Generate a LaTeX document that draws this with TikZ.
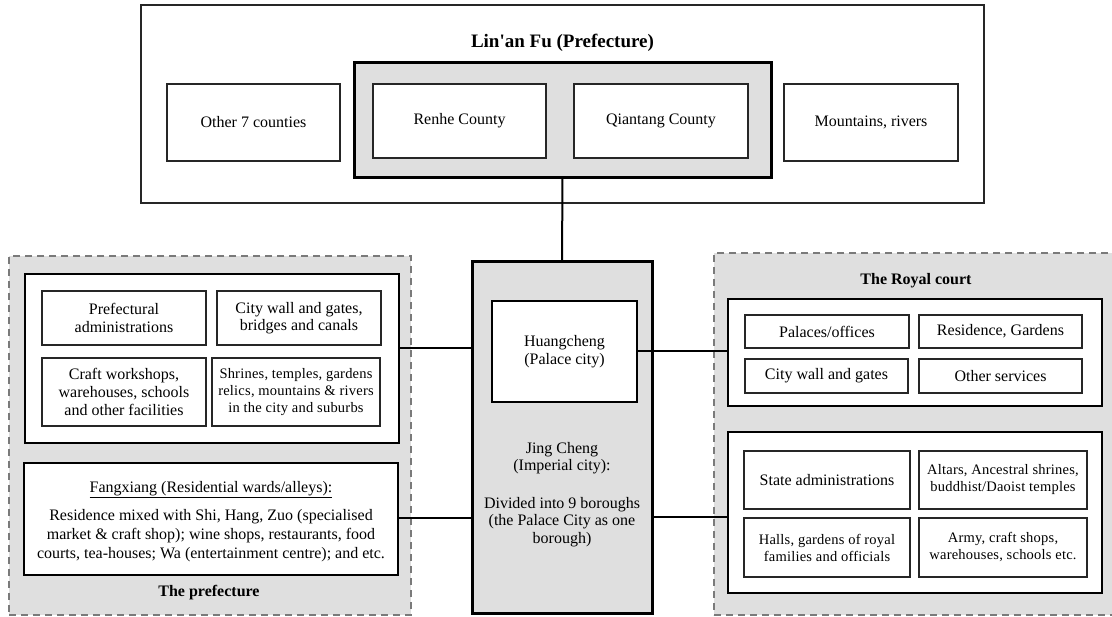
\documentclass[tikz,border=0pt]{standalone}
\usepackage{fontspec}
\setmainfont{Liberation Serif}
\definecolor{panelgray}{HTML}{DFDFDF}
\definecolor{edgegray}{HTML}{7A7A7A}
\begin{document}
\begin{tikzpicture}[x=1pt,y=-1pt,
  every node/.style={inner sep=0pt, outer sep=0pt, align=center},
  txt/.style={font=\fontsize{16}{17.6}\selectfont},
  smalltxt/.style={font=\fontsize{14.5}{17}\selectfont\addfontfeature{LetterSpace=1.5}},
  headtxt/.style={font=\fontsize{16}{18}\selectfont\bfseries},
  titletxt/.style={font=\fontsize{19}{21}\selectfont\bfseries},
  thinbox/.style={draw=black!85, line width=1.2pt, fill=white, txt},
  framebox/.style={draw=black, line width=2.2pt, fill=white, txt},
  heavybox/.style={draw=black, line width=3pt, fill=panelgray, txt},
  panel/.style={draw=edgegray, line width=1.3pt, dash pattern=on 7pt off 5pt, fill=panelgray},
  link/.style={draw=black, line width=2pt}
]
\useasboundingbox (0,0) rectangle (1112,617);

% ---------- Lin'an Fu prefecture ----------
\node[thinbox, minimum width=843pt, minimum height=198pt] (fu) at (562.5,104) {};
\node[titletxt] (futitle) at (562.5,43) {Lin\textquotesingle an Fu (Prefecture)};
\node[heavybox, minimum width=417pt, minimum height=115pt] (core) at (562.5,120.5) {};
\node[thinbox, minimum width=173pt, minimum height=77pt] (other) at (253.5,122.5) {Other 7 counties};
\node[thinbox, minimum width=173pt, minimum height=74pt] (renhe) at (459.5,121) {Renhe County};
\node[thinbox, minimum width=174pt, minimum height=74pt] (qiantang) at (661,121) {Qiantang County};
\node[thinbox, minimum width=174pt, minimum height=77pt] (mount) at (871,122.5) {Mountains, rivers};

% ---------- The prefecture (left) ----------
\node[panel, minimum width=402pt, minimum height=359pt] (pref) at (210,435.5) {};
\node[framebox, minimum width=374pt, minimum height=169pt] (civic) at (212,358.5) {};
\node[thinbox, minimum width=164pt, minimum height=54pt] (padm) at (124,318) {Prefectural\\administrations};
\node[thinbox, minimum width=164pt, minimum height=54pt] (wall) at (299,318) {City wall and gates,\\bridges and canals};
\node[thinbox, minimum width=164pt, minimum height=68pt] (craft) at (124,392) {Craft workshops,\\warehouses, schools\\and other facilities};
\node[thinbox, minimum width=168pt, minimum height=68pt, smalltxt] (shrine) at (296,392) {Shrines, temples, gardens\\relics, mountains \& rivers\\in the city and suburbs};
\node[framebox, minimum width=374pt, minimum height=112pt] (fang) at (211,519) {};
\node[txt] (fanghead) at (211,490) {\underline{Fangxiang (Residential wards/alleys):}};
\node[txt, font=\fontsize{16}{18.7}\selectfont] (fangbody) at (211,535.5) {Residence mixed with Shi, Hang, Zuo (specialised\\market \& craft shop); wine shops, restaurants, food\\courts, tea-houses; Wa (entertainment centre); and etc.};
\node[headtxt] (preflabel) at (209,593) {The prefecture};

% ---------- Jing Cheng (centre) ----------
\node[heavybox, minimum width=180pt, minimum height=351pt] (jing) at (562,437.5) {};
\node[framebox, line width=2pt, minimum width=145pt, minimum height=101pt] (huang) at (564.5,351.5) {Huangcheng\\(Palace city)};
\node[txt] (jingname) at (562,458) {Jing Cheng\\(Imperial city):};
\node[txt] (jingnote) at (562,522) {Divided into 9 boroughs\\(the Palace City as one\\borough)};

% ---------- The Royal court (right) ----------
\node[panel, minimum width=406pt, minimum height=362pt] (royal) at (917,434) {};
\node[headtxt] (royallabel) at (916,281) {The Royal court};
\node[framebox, minimum width=374pt, minimum height=107pt] (court) at (915,352.5) {};
\node[thinbox, minimum width=164pt, minimum height=33pt] (palace) at (827,331.5) {Palaces/offices};
\node[thinbox, minimum width=163pt, minimum height=33pt] (resid) at (1000.5,331.5) {Residence, Gardens};
\node[thinbox, minimum width=163pt, minimum height=34pt] (cwall) at (826.5,376) {City wall and gates};
\node[thinbox, minimum width=163pt, minimum height=34pt] (serv) at (1000.5,376) {Other services};
\node[framebox, minimum width=374pt, minimum height=161pt] (state) at (915,512.5) {};
\node[thinbox, minimum width=166pt, minimum height=58pt] (sadm) at (827,480) {State administrations};
\node[thinbox, minimum width=168pt, minimum height=58pt, smalltxt] (altar) at (1003,480) {Altars, Ancestral shrines,\\buddhist/Daoist temples};
\node[thinbox, minimum width=166pt, minimum height=59pt, smalltxt] (halls) at (827,547.5) {Halls, gardens of royal\\families and officials};
\node[thinbox, minimum width=168pt, minimum height=59pt, smalltxt] (army) at (1003,547.5) {Army, craft shops,\\warehouses, schools etc.};

% ---------- Links ----------
\draw[link] (core.south) -- (jing.north);
\draw[link] (civic.east |- 0,348) -- (jing.west |- 0,348);
\draw[link] (huang.east) -- (court.west |- huang.east);
\draw[link] (fang.east |- 0,518) -- (jing.west |- 0,518);
\draw[link] (jing.east |- 0,517) -- (state.west |- 0,517);
\end{tikzpicture}
\end{document}
